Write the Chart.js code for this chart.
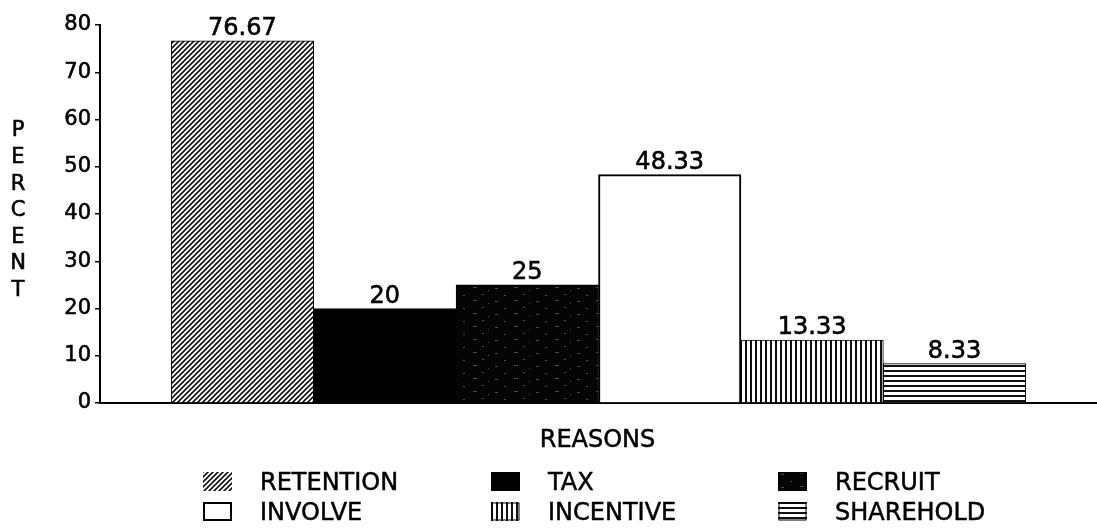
<!DOCTYPE html>
<html><head><meta charset="utf-8">
<script src="https://cdn.jsdelivr.net/npm/chart.js@4/dist/chart.umd.min.js"></script>
<style>
html,body{margin:0;padding:0;background:#fff;}
#wrap{position:relative;width:1097px;height:529px;overflow:hidden;}
#c{position:absolute;left:0;top:0;}
.sw{position:absolute;}
.lt{position:absolute;font-family:"DejaVu Sans",sans-serif;font-size:24px;line-height:24px;color:#000;white-space:nowrap;-webkit-text-stroke:0.5px #000;}
#xt{position:absolute;left:0;width:1195px;text-align:center;top:427px;}
</style></head><body>
<div id="wrap"><canvas id="c" width="1097" height="529"></canvas><div id="legend"></div></div>
<script>
// ---- data ----
const categories = ['RETENTION', 'TAX', 'RECRUIT', 'INVOLVE', 'INCENTIVE', 'SHAREHOLD'];
const percentValues = [76.67, 20, 25, 48.33, 13.33, 8.33];
const valueLabels = ['76.67', '20', '25', '48.33', '13.33', '8.33'];
const yTicks = [0, 10, 20, 30, 40, 50, 60, 70, 80];
const yTitle = 'PERCENT';
const xTitle = 'REASONS';
const fillKinds = ['diag', 'solid', 'speckle', 'white', 'vert', 'horiz'];

// ---- patterns ----
function makePattern(kind) {
  const t = document.createElement('canvas');
  const g = t.getContext('2d');
  if (kind === 'diag') {
    t.width = 5; t.height = 5;
    g.fillStyle = '#fff'; g.fillRect(0, 0, 5, 5);
    g.strokeStyle = '#111'; g.lineWidth = 1.6;
    g.beginPath();
    g.moveTo(-1, 6); g.lineTo(6, -1);
    g.moveTo(-1, 1); g.lineTo(1, -1);
    g.moveTo(4, 6); g.lineTo(6, 4);
    g.stroke();
  } else if (kind === 'solid') {
    t.width = 4; t.height = 4;
    g.fillStyle = '#000'; g.fillRect(0, 0, 4, 4);
  } else if (kind === 'speckle') {
    t.width = 41; t.height = 13;
    g.fillStyle = '#050505'; g.fillRect(0, 0, 41, 13);
    g.fillStyle = '#4a4a4a';
    const dots = [[3,2,3,1],[22,1,4,1],[31,8,2,1],[12,9,2,1],[37,4,1,1]];
    dots.forEach(d => g.fillRect(d[0], d[1], d[2], d[3]));
  } else if (kind === 'white') {
    t.width = 4; t.height = 4;
    g.fillStyle = '#fff'; g.fillRect(0, 0, 4, 4);
  } else if (kind === 'vert') {
    t.width = 5; t.height = 5;
    g.fillStyle = '#fff'; g.fillRect(0, 0, 5, 5);
    g.fillStyle = '#111'; g.fillRect(0, 0, 2, 5);
  } else if (kind === 'horiz') {
    t.width = 5; t.height = 5;
    g.fillStyle = '#fff'; g.fillRect(0, 0, 5, 5);
    g.fillStyle = '#111'; g.fillRect(0, 0, 5, 2);
  }
  return g.createPattern(t, 'repeat');
}
const ctx = document.getElementById('c').getContext('2d');
const fills = fillKinds.map(makePattern);

const FONT = '"DejaVu Sans", sans-serif';

// ---- plugins ----
const valueLabelPlugin = {
  id: 'valueLabels',
  afterDatasetsDraw(chart) {
    const c = chart.ctx;
    const meta = chart.getDatasetMeta(0);
    c.save();
    c.font = '24px ' + FONT;
    c.fillStyle = '#000';
    c.strokeStyle = '#000';
    c.lineWidth = 0.6;
    c.textAlign = 'center';
    c.textBaseline = 'alphabetic';
    meta.data.forEach((bar, i) => {
      c.fillText(valueLabels[i], bar.x, bar.y - 6);
      c.strokeText(valueLabels[i], bar.x, bar.y - 6);
    });
    c.restore();
  }
};
const yTitlePlugin = {
  id: 'stackedYTitle',
  afterDraw(chart) {
    const c = chart.ctx;
    c.save();
    c.font = '21px ' + FONT;
    c.fillStyle = '#000';
    c.strokeStyle = '#000';
    c.lineWidth = 0.6;
    c.textAlign = 'center';
    c.textBaseline = 'middle';
    yTitle.split('').forEach((ch, i) => {
      c.fillText(ch, 18, 131 + i * 26.6);
      c.strokeText(ch, 18, 131 + i * 26.6);
    });
    c.restore();
  }
};

new Chart(ctx, {
  type: 'bar',
  data: {
    datasets: [{
      label: 'PERCENT',
      data: percentValues.map((v, i) => ({ x: i + 1, y: v })),
      backgroundColor: fills,
      borderColor: '#000',
      borderWidth: fillKinds.map(k => k === 'white' ? 2 : 1),
      barPercentage: 1,
      categoryPercentage: 1
    }]
  },
  options: {
    responsive: false,
    animation: false,
    devicePixelRatio: 1,
    layout: { padding: { top: 25, right: 0, bottom: 126, left: 0 } },
    plugins: { legend: { display: false }, tooltip: { enabled: false } },
    scales: {
      x: {
        type: 'linear',
        min: 0, max: 7,
        offset: false,
        ticks: { display: false, stepSize: 1 },
        grid: { display: false, drawTicks: false },
        border: { display: true, color: '#000', width: 2 },
        title: { display: false, text: xTitle }
      },
      y: {
        min: 0, max: 80,
        afterBuildTicks: s => { s.ticks = yTicks.map(v => ({ value: v })); },
        afterFit: s => { s.width = 100; },
        ticks: { color: '#000', font: { family: FONT, size: 21 }, padding: 4, textStrokeColor: '#000', textStrokeWidth: 0.6 },
        grid: { display: true, drawOnChartArea: false, drawTicks: true, tickLength: 5, color: '#000', lineWidth: 1.5 },
        border: { display: true, color: '#000', width: 2 }
      }
    }
  },
  plugins: [valueLabelPlugin, yTitlePlugin]
});

// ---- x-axis title and legend (HTML text) ----
const legend = document.getElementById('legend');
const xt = document.createElement('div');
xt.className = 'lt';
xt.id = 'xt';
xt.textContent = xTitle;
legend.appendChild(xt);

const colBox = [203, 491, 778];
const colText = [260, 548, 835];
const rowMid = [482, 512];
categories.forEach((name, i) => {
  const col = i % 3, row = Math.floor(i / 3);
  const sw = document.createElement('canvas');
  sw.width = 29; sw.height = 19;
  sw.className = 'sw';
  sw.style.left = colBox[col] + 'px';
  sw.style.top = (rowMid[row] - 10) + 'px';
  const g = sw.getContext('2d');
  g.fillStyle = makePattern(fillKinds[i]);
  g.fillRect(0, 0, 29, 19);
  if (fillKinds[i] !== 'diag') {
    g.strokeStyle = '#000'; g.lineWidth = fillKinds[i] === 'white' ? 2 : 1;
    g.strokeRect(1, 1, 27, 17);
  }
  legend.appendChild(sw);
  const tx = document.createElement('div');
  tx.className = 'lt';
  tx.textContent = name;
  tx.style.left = colText[col] + 'px';
  tx.style.top = (rowMid[row] - 12) + 'px';
  legend.appendChild(tx);
});
</script>
</body></html>
